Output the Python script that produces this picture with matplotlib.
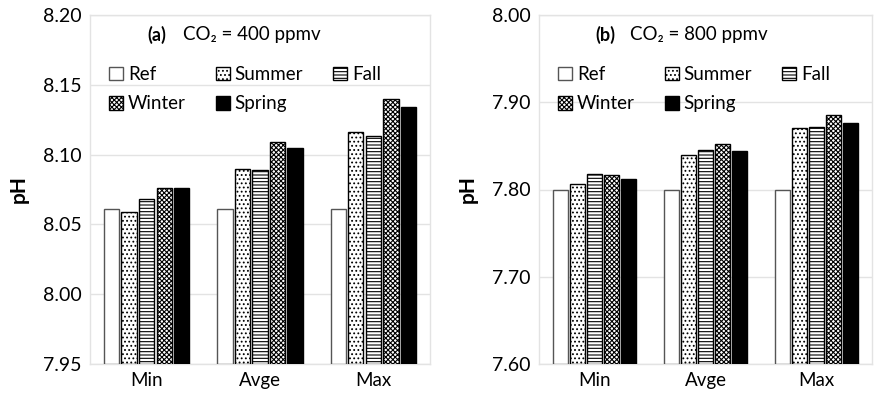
import matplotlib
matplotlib.use("Agg")
import matplotlib.pyplot as plt
import numpy as np

plt.rcParams['font.family'] = ['Lato', 'DejaVu Sans']
plt.rcParams['hatch.linewidth'] = 0.8

categories = ["Min", "Avge", "Max"]
series = ["Ref", "Summer", "Fall", "Winter", "Spring"]

ph_400_ref = [8.061, 8.061, 8.061]
ph_400_summer = [8.059, 8.090, 8.116]
ph_400_fall = [8.068, 8.089, 8.113]
ph_400_winter = [8.076, 8.109, 8.140]
ph_400_spring = [8.076, 8.105, 8.134]

ph_800_ref = [7.800, 7.800, 7.800]
ph_800_summer = [7.806, 7.840, 7.871]
ph_800_fall = [7.818, 7.845, 7.872]
ph_800_winter = [7.817, 7.852, 7.885]
ph_800_spring = [7.812, 7.844, 7.876]

yticks_a = [7.95, 8.00, 8.05, 8.10, 8.15, 8.20]
yticks_b = [7.60, 7.70, 7.80, 7.90, 8.00]

styles = [
    dict(facecolor="white", edgecolor="#555555", hatch=None),
    dict(facecolor="white", edgecolor="black", hatch="...."),
    dict(facecolor="white", edgecolor="black", hatch="-----"),
    dict(facecolor="white", edgecolor="black", hatch="xxxxxxx"),
    dict(facecolor="black", edgecolor="black", hatch=None),
]

fig = plt.figure(figsize=(8.74, 3.93), dpi=100)
ax_a = fig.add_axes([90/874, 1-364/393, 340/874, 349/393])
ax_b = fig.add_axes([539/874, 1-364/393, 333/874, 349/393])


def draw(ax, data, ylim, yticks, title_tag, co2):
    x = np.arange(len(categories))
    slot = 0.155
    width = 0.135
    handles = []
    for i, (vals, st) in enumerate(zip(data, styles)):
        pos = x + (i - 2) * slot
        h = ax.bar(pos, np.array(vals) - ylim[0], width, bottom=ylim[0],
                   facecolor=st["facecolor"], edgecolor=st["edgecolor"],
                   hatch=st["hatch"], linewidth=1.0, label=series[i], zorder=3)
        handles.append(h)
    ax.set_ylim(*ylim)
    ax.set_xlim(-0.5, 2.5)
    ax.set_yticks(yticks)
    ax.set_yticklabels([f"{t:.2f}" for t in yticks], fontsize=14)
    ax.set_xticks(x)
    ax.set_xticklabels(categories, fontsize=13.5)
    ax.tick_params(axis="both", length=0, pad=6)
    ax.grid(axis="y", color="#e3e3e3", linewidth=1.0, zorder=0)
    for s in ax.spines.values():
        s.set_color("#e3e3e3")
        s.set_linewidth(1.0)
    ax.set_ylabel("pH", fontsize=15, fontweight="bold", labelpad=10)
    ax.text(0.17, 0.943, title_tag, transform=ax.transAxes, fontsize=13,
            fontweight="bold", va="center", ha="left")
    ax.text(0.274, 0.943, "CO₂ = " + co2 + " ppmv", transform=ax.transAxes,
            fontsize=13.5, va="center", ha="left")
    order = [0, 3, 1, 4, 2]
    leg = ax.legend([handles[k] for k in order], [series[k] for k in order],
                    ncol=3, loc="upper left", bbox_to_anchor=(0.035, 0.875),
                    frameon=False, fontsize=13.5, handlelength=0.75,
                    handleheight=0.75, handletextpad=0.25, columnspacing=1.6,
                    labelspacing=0.65, borderaxespad=0)
    return leg


draw(ax_a, [ph_400_ref, ph_400_summer, ph_400_fall, ph_400_winter, ph_400_spring],
     (7.95, 8.20), yticks_a, "(a)", "400")
draw(ax_b, [ph_800_ref, ph_800_summer, ph_800_fall, ph_800_winter, ph_800_spring],
     (7.60, 8.00), yticks_b, "(b)", "800")

fig.savefig("out.png", dpi=100)
